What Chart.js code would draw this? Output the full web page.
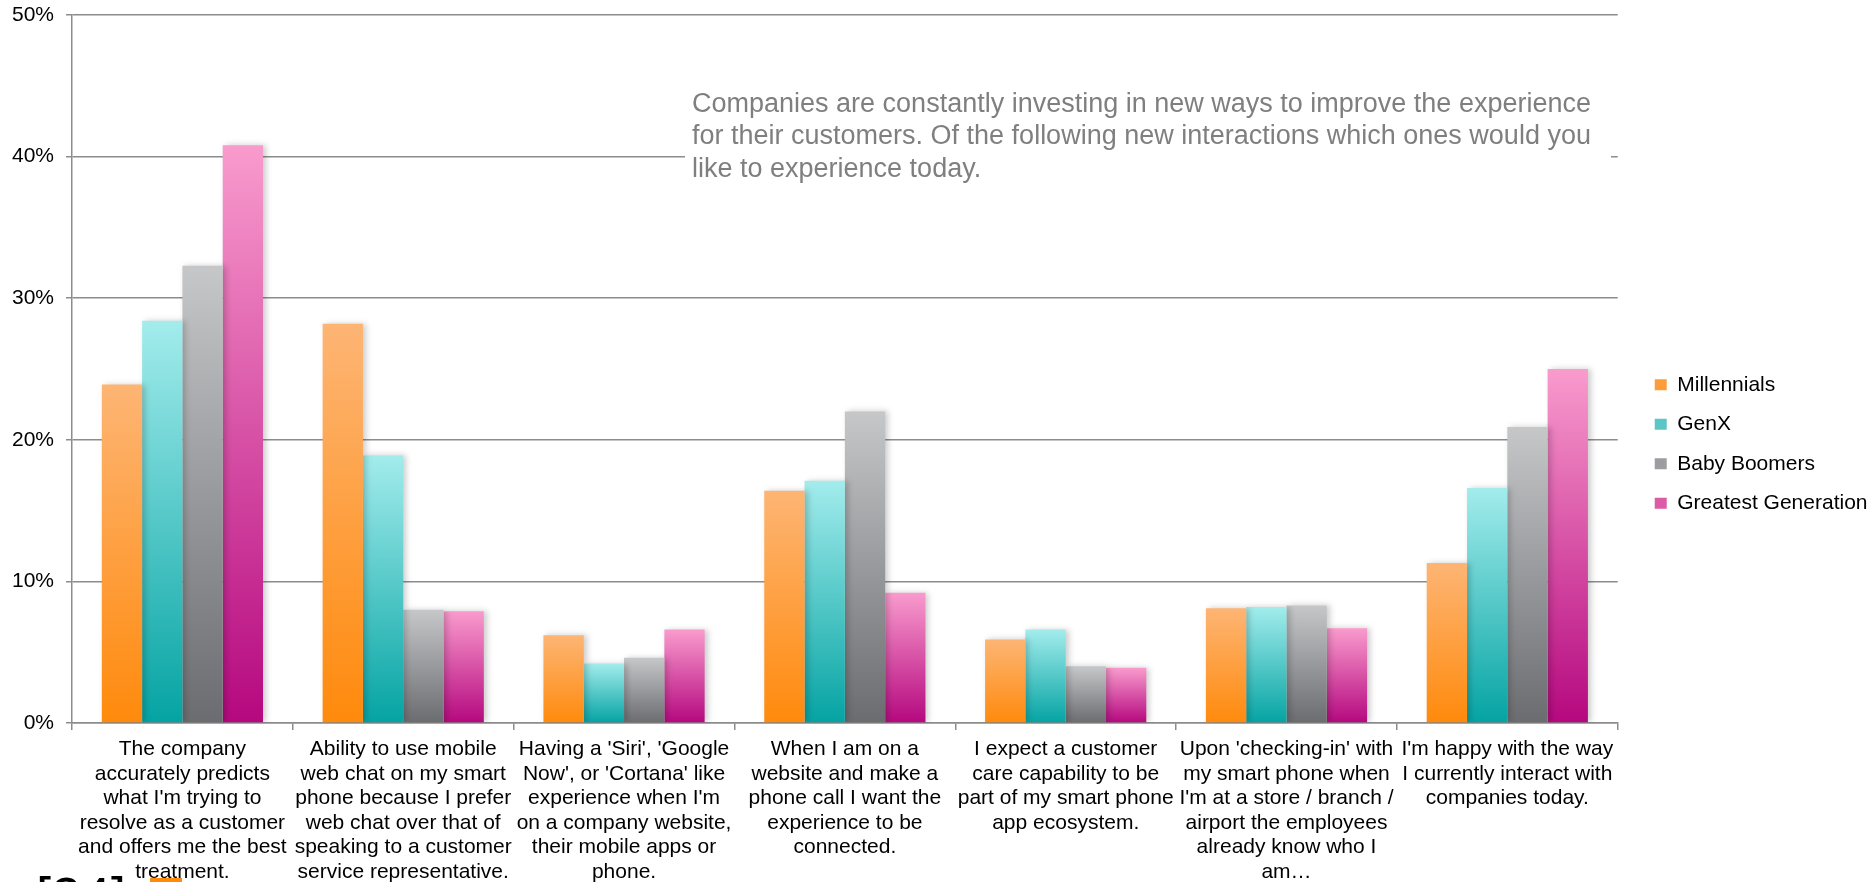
<!DOCTYPE html>
<html>
<head>
<meta charset="utf-8">
<script src="https://cdn.jsdelivr.net/npm/chart.js@4/dist/chart.umd.min.js"></script>
<style>
  html, body { margin: 0; padding: 0; background: #fff; }
  #wrap { width: 1871px; height: 882px; position: relative; }
</style>
</head>
<body>
<div id="wrap"><canvas id="chart"></canvas></div>
<script>
const categories = [
  ['The company', 'accurately predicts', "what I'm trying to", 'resolve as a customer', 'and offers me the best', 'treatment.'],
  ['Ability to use mobile', 'web chat on my smart', 'phone because I prefer', 'web chat over that of', 'speaking to a customer', 'service representative.'],
  ["Having a 'Siri', 'Google", "Now', or 'Cortana' like", "experience when I'm", 'on a company website,', 'their mobile apps or', 'phone.'],
  ['When I am on a', 'website and make a', 'phone call I want the', 'experience to be', 'connected.'],
  ['I expect a customer', 'care capability to be', 'part of my smart phone', 'app ecosystem.'],
  ["Upon 'checking-in' with", 'my smart phone when', "I'm at a store / branch /", 'airport the employees', 'already know who I', 'am…'],
  ["I'm happy with the way", 'I currently interact with', 'companies today.']
];
const seriesNames = ['Millennials', 'GenX', 'Baby Boomers', 'Greatest Generation'];
const millennials = [23.9, 28.2, 6.2, 16.4, 5.9, 8.1, 11.3];
const genX = [28.4, 18.9, 4.2, 17.1, 6.6, 8.2, 16.6];
const babyBoomers = [32.3, 8.0, 4.6, 22.0, 4.0, 8.3, 20.9];
const greatestGeneration = [40.8, 7.9, 6.6, 9.2, 3.9, 6.7, 25.0];
const yTicks = [0, 10, 20, 30, 40, 50];
const note = [
  'Companies are constantly investing in new ways to improve the experience',
  'for their customers. Of the following new interactions which ones would you',
  'like to experience today.'
];

// top / bottom of each bar gradient, plus a flat colour for the legend
const palette = [
  ['#fdb574', '#ff8a0c', '#fe9c3c'],
  ['#a3ecec', '#05a3a3', '#5cc6c6'],
  ['#c6c7c9', '#6b6c70', '#9c9da0'],
  ['#f99bcd', '#b5087f', '#dc5ba6']
];

const FONT = '"Liberation Sans", Arial, sans-serif';
Chart.defaults.font.family = FONT;
Chart.defaults.font.size = 21;
Chart.defaults.color = '#000';

function barFill(top, bottom, flat) {
  return (ctx) => {
    if (ctx.type !== 'data') return flat;
    const chart = ctx.chart;
    const y = chart.scales.y;
    if (!y || !chart.chartArea) return flat;
    const yTop = y.getPixelForValue(ctx.raw);
    const yBase = y.getPixelForValue(0);
    if (!isFinite(yTop) || yBase - yTop < 1) return bottom;
    const g = chart.ctx.createLinearGradient(0, yTop, 0, yBase);
    g.addColorStop(0, top);
    g.addColorStop(1, bottom);
    return g;
  };
}

const seriesValues = [millennials, genX, babyBoomers, greatestGeneration];
const datasets = seriesNames.map((name, i) => ({
  label: name,
  data: seriesValues[i],
  backgroundColor: barFill(palette[i][0], palette[i][1], palette[i][2]),
  borderWidth: 0,
  categoryPercentage: 0.73,
  barPercentage: 1.0
}));

const notePlugin = {
  id: 'note',
  afterLayout(chart) {
    // nudge the legend a little right / up
    const lg = chart.legend;
    lg.left += 18.5; lg.right += 18.5;
    lg.top -= 4.5; lg.bottom -= 4.5;
  },
  beforeDatasetsDraw(chart) {
    const ctx = chart.ctx;
    ctx.save();
    ctx.fillStyle = '#fff';
    ctx.fillRect(685, 80, 926, 110);
    ctx.fillStyle = '#7f7f7f';
    ctx.font = '27px ' + FONT;
    ctx.textBaseline = 'middle';
    note.forEach((t, i) => ctx.fillText(t, 692, 104.5 + i * 32.5));
    ctx.restore();
    // soft shadow to the right of the bars
    ctx.save();
    ctx.shadowColor = 'rgba(0,0,0,0.2)';
    ctx.shadowBlur = 6;
    ctx.shadowOffsetX = 3;
    ctx.shadowOffsetY = 0;
  },
  afterDatasetsDraw(chart) {
    chart.ctx.restore();
  },
  afterDraw(chart) {
    // page number fragment cut off at the bottom-left
    const ctx = chart.ctx;
    ctx.save();
    ctx.fillStyle = '#000';
    ctx.font = '54px ' + FONT;
    ctx.textBaseline = 'alphabetic';
    ctx.fillText('[24]', 36, 915);
    ctx.fillStyle = '#ff8a0c';
    ctx.fillRect(150, 878, 32, 10);
    ctx.restore();
  }
};

new Chart(document.getElementById('chart'), {
  type: 'bar',
  data: { labels: categories, datasets },
  options: {
    responsive: true,
    maintainAspectRatio: false,
    animation: false,
    layout: { padding: { top: 15, right: 12, bottom: 0, left: 0 } },
    plugins: {
      legend: {
        position: 'right',
        labels: {
          boxWidth: 12,
          boxHeight: 11,
          padding: 18.5,
          color: '#000',
          font: { size: 21 },
          generateLabels: (chart) => chart.data.datasets.map((ds, i) => ({
            text: ds.label,
            fillStyle: palette[i][2],
            strokeStyle: palette[i][2],
            lineWidth: 0,
            hidden: false,
            datasetIndex: i
          }))
        }
      },
      tooltip: { enabled: false }
    },
    scales: {
      x: {
        grid: { drawOnChartArea: false, drawTicks: true, tickLength: 7, color: '#8c8c8c', lineWidth: 1.5 },
        border: { color: '#8c8c8c', width: 1.5 },
        ticks: { maxRotation: 0, minRotation: 0, autoSkip: false, padding: 7, color: '#000', font: { size: 21, lineHeight: 1.17 } },
        afterFit: (scale) => { scale.height = 159; }
      },
      y: {
        min: yTicks[0],
        max: yTicks[yTicks.length - 1],
        afterBuildTicks: (scale) => { scale.ticks = yTicks.map(v => ({ value: v })); },
        grid: { color: '#8c8c8c', lineWidth: 1.5, tickLength: 6 },
        border: { color: '#8c8c8c', width: 1.5 },
        ticks: { padding: 12, color: '#000', font: { size: 21 }, callback: (v) => v + '%' },
        afterFit: (scale) => { scale.width = 72; scale.paddingTop = 0; scale.paddingBottom = 0; }
      }
    }
  },
  plugins: [notePlugin]
});
</script>
</body>
</html>
